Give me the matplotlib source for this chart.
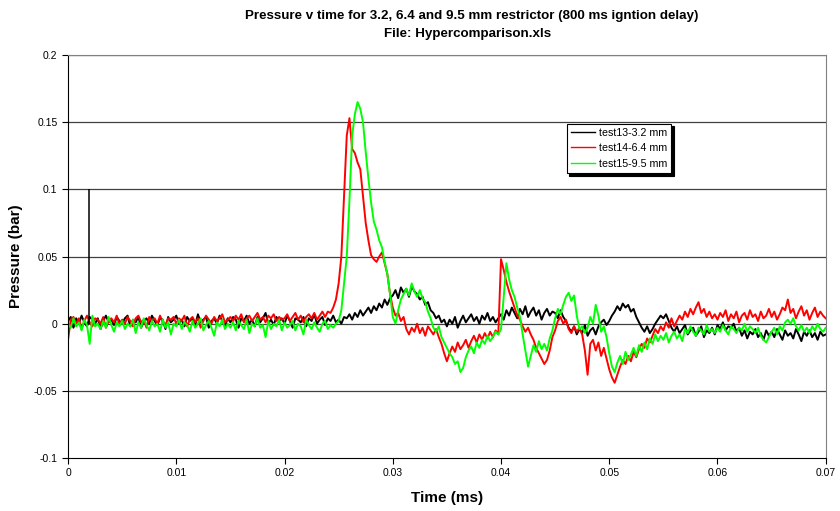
import numpy as np
import matplotlib.pyplot as plt

# -----------------------
# Data (pressure in mbar, sampled every 0.00025 ms from 0 to 0.07 ms)
# -----------------------
t_step = 0.00025
n_points = 281

test13 = [
    2, 5, -3, 4, 0, 6, 1, -2, 5, 3, 0, 4, -4, 2, 6, 1, 3, -1, 5, 2,
    0, 4, 6, -2, 3, 1, 5, -3, 2, 4, 0, 6, 2, -1, 4, 3, -4, 5, 1, 3,
    6, 0, 3, -2, 5, 2, 4, -1, 7, 1, 3, 5, -3, 2, 4, 0, 6, 2, -2, 4,
    1, 5, 3, -3, 4, 2, 6, 0, 3, -2, 5, 1, 4, 8, 0, 3, -1, 5, 2, 4,
    0, 6, 2, -3, 4, 3, 1, 5, -2, 4, 2, 7, 0, 3, 5, -1, 4, 2, 6, 1,
    3, 0, 5, 4, 7, 3, 8, 5, 10, 6, 9, 12, 8, 13, 10, 15, 12, 18, 14, 19,
    21, 25, 19, 27, 23, 26, 20, 28, 24, 22, 18, 20, 14, 16, 10, 8, 4, 6, 1, 3,
    -2, 3, 0, 5, -3, 2, 6, 1, 4, 7, 2, 5, 0, 6, 3, 8, 2, 5, 1, 4,
    7, 3, 10, 6, 12, 8, 4, 11, 7, 13, 5, 9, 12, 6, 10, 3, 8, 11, 6, 9,
    8, 4, 10, 5, 2, -3, -6, -2, -8, -4, -7, -1, -9, -5, -3, -8, -2, 1, 3, -1,
    2, 6, 9, 13, 10, 15, 12, 14, 9, 11, 5, 1, -3, -6, -2, -7, -4, 0, 3, 6,
    4, 7, 2, -3, -6, -2, -7, -4, -1, -8, -5, -3, -9, -6, -2, -10, -5, -7, -3, -8,
    -1, -4, 1, -5, -2, -3, 0, -6, -3, -9, -5, -11, -6, -8, -4, -10, -7, -12, -5, -9,
    -6, -10, -4, -8, -12, -5, -9, -7, -11, -4, -8, -13, -6, -9, -5, -10, -7, -12, -6, -9,
    -8,
]

test14 = [
    -12, 3, 5, 0, 4, -4, 2, 6, 1, -2, 4, 3, 0, 5, -3, 2, 4, 1, 6, -1,
    3, 0, 5, 2, -2, 4, 6, 1, 3, -3, 5, 2, 4, 0, 6, 1, -1, 4, 3, 5,
    0, 4, 2, 6, -2, 3, 5, 1, 4, -3, 2, 6, 3, 0, 5, 2, 4, 7, 1, 3,
    5, 2, 6, 3, 7, 1, 4, 6, 2, 5, 8, 3, 5, 1, 6, 4, 7, 2, 5, 3,
    4, 7, 2, 5, 8, 3, 6, 1, 5, 7, 4, 8, 3, 6, 9, 5, 9, 8, 12, 18,
    30, 50, 95, 140, 153, 130, 127, 120, 115, 95, 75, 62, 51, 48, 46, 50, 53, 45, 37, 22,
    12, 6, 8, 2, 5, -4, -8, -3, -6, 0, -7, -3, -9, -2, -5, -8, -4, -10, -15, -22,
    -28, -22, -17, -21, -14, -19, -16, -12, -18, -13, -9, -14, -8, -12, -7, -11, -6, -10, -5, -8,
    48, 40, 31, 24, 18, 12, 6, 3, -2, -6, -3, -8, -12, -18, -22, -26, -30, -27, -20, -10,
    -5, 2, 5, 0, 3, -4, -7, -2, -6, -3, -8, -20, -38, -15, -12, -20, -14, -24, -18, -26,
    -34, -40, -44, -38, -32, -27, -30, -24, -28, -21, -25, -19, -15, -18, -11, -14, -9, -4, -7, -2,
    -5, 1, -3, 4, -2, 2, 6, 3, 9, 5, 11, 7, 12, 16, 8, 11, 5, 9, 4, 7,
    3, 8, 5, 10, 2, 7, 4, 9, 1, 6, 8, 3, 10, 5, 7, 2, 9, 4, 6, 11,
    5, 9, 3, 7, 12, 10, 18, 8, 11, 4, 9, 13, 6, 10, 3, 8, 12, 5, 9, 6,
    4,
]

test15 = [
    0, -3, 4, -2, 1, -5, 3, -1, -15, 6, -2, 0, -4, 2, -3, 5, -1, -6, 1, -2,
    2, -4, 0, -2, 3, -7, 1, -3, 4, -1, -5, 2, -2, 0, -6, 3, -3, 1, -8, 0,
    -2, 3, -4, 1, -1, -6, 2, -3, 0, 4, -5, -1, 2, -3, -9, 1, -2, 3, -4, 0,
    -3, 1, -5, 2, -1, -4, 3, -7, 0, -2, 4, -3, -1, -10, 2, -4, 0, -2, 3, -5,
    1, -3, -1, 2, -5, 0, -2, -8, 3, -1, -4, 1, -3, -6, 0, 2, -4, -1, -3, 0,
    2, 10, 30, 50, 92, 140, 156, 165, 160, 150, 128, 108, 90, 76, 70, 62, 57, 46, 37, 22,
    5, 0, 10, 18, 22, 26, 21, 30, 24, 20, 25, 19, 16, 9, 4, -3, -6, -2, -10, -14,
    -18, -22, -25, -30, -28, -36, -33, -25, -20, -17, -22, -14, -18, -12, -15, -9, -13, -10, -6, -8,
    -4, 20, 45, 33, 25, 20, 12, 5, -8, -20, -32, -24, -16, -21, -13, -19, -15, -20, -11, -5,
    4, 11, 7, 14, 20, 23, 17, 21, 6, -4, -2, -7, -3, 5, 0, 14, 6, -6, -2, -10,
    -22, -32, -36, -29, -24, -30, -21, -27, -23, -18, -24, -16, -21, -14, -19, -11, -15, -8, -13, -9,
    -12, -7, -14, -9, -6, -11, -8, -13, -4, -7, -2, -6, -9, -3, -5, -8, -1, -6, -4, -7,
    -3, -6, -1, -5, -8, -2, -4, -7, -3, -5, 0, -6, -2, -4, -7, -3, -9, -12, -14, -10,
    -6, -3, -8, -2, -5, 1, 3, 0, 4, -2, -5, -1, -6, -3, -7, -2, -5, 0, -4, -6,
    -3,
]

series_labels = ["test13-3.2 mm", "test14-6.4 mm", "test15-9.5 mm"]
series_colors = ["black", "#FF0000", "#00FF00"]

# vertical trigger marker drawn on the chart
trigger_t = 0.00194
trigger_range = [0.0, 0.1]

x_ticks = [0, 0.01, 0.02, 0.03, 0.04, 0.05, 0.06, 0.07]
y_ticks = [-0.1, -0.05, 0, 0.05, 0.1, 0.15, 0.2]

# -----------------------
# Plot
# -----------------------
plt.rcParams['font.family'] = ['Liberation Sans', 'DejaVu Sans']

fig = plt.figure(figsize=(8.4, 5.11), dpi=100)
ax = fig.add_axes([0.081, 0.1037, 0.902, 0.7886])

t = np.arange(n_points) * t_step
for vals, lab, col in zip([test13, test14, test15], series_labels, series_colors):
    ax.plot(t, np.array(vals) / 1000.0, color=col, linewidth=1.4, label=lab)

ax.vlines(trigger_t, trigger_range[0], trigger_range[1], color='black', linewidth=1.1)

ax.set_xlim(0, 0.07)
ax.set_ylim(-0.1, 0.2)
ax.set_xticks(x_ticks)
ax.set_xticklabels([f"{v:g}" for v in x_ticks])
ax.set_yticks(y_ticks)
ax.set_yticklabels([f"{v:g}" for v in y_ticks])
ax.tick_params(axis='both', labelsize=7.5, direction='out', length=4, width=0.8)

for y in y_ticks[1:]:
    ax.axhline(y, color='#404040', linewidth=0.9, zorder=0)

ax.spines['left'].set_color('black')
ax.spines['bottom'].set_color('black')
ax.spines['top'].set_color('#808080')
ax.spines['right'].set_color('#808080')

ax.set_xlabel("Time (ms)", fontsize=11, fontweight='bold', labelpad=9)
ax.set_ylabel("Pressure (bar)", fontsize=11, fontweight='bold', labelpad=8)
fig.text(0.561, 0.9687, "Pressure v time for 3.2, 6.4 and 9.5 mm restrictor (800 ms igntion delay)",
         ha='center', va='center', fontsize=9.6, fontweight='bold')
fig.text(0.557, 0.933, "File: Hypercomparison.xls",
         ha='center', va='center', fontsize=9.6, fontweight='bold')

leg = ax.legend(loc='upper left', bbox_to_anchor=(0.658, 0.83), fontsize=7.7,
                frameon=True, fancybox=False, shadow={'color': 'black', 'alpha': 1},
                edgecolor='black', handlelength=2.3, borderpad=0.4,
                labelspacing=0.5, handletextpad=0.3, borderaxespad=0)
leg.get_frame().set_linewidth(0.8)
for line in leg.get_lines():
    line.set_linewidth(1.0)

fig.savefig("out.png", dpi=100)
